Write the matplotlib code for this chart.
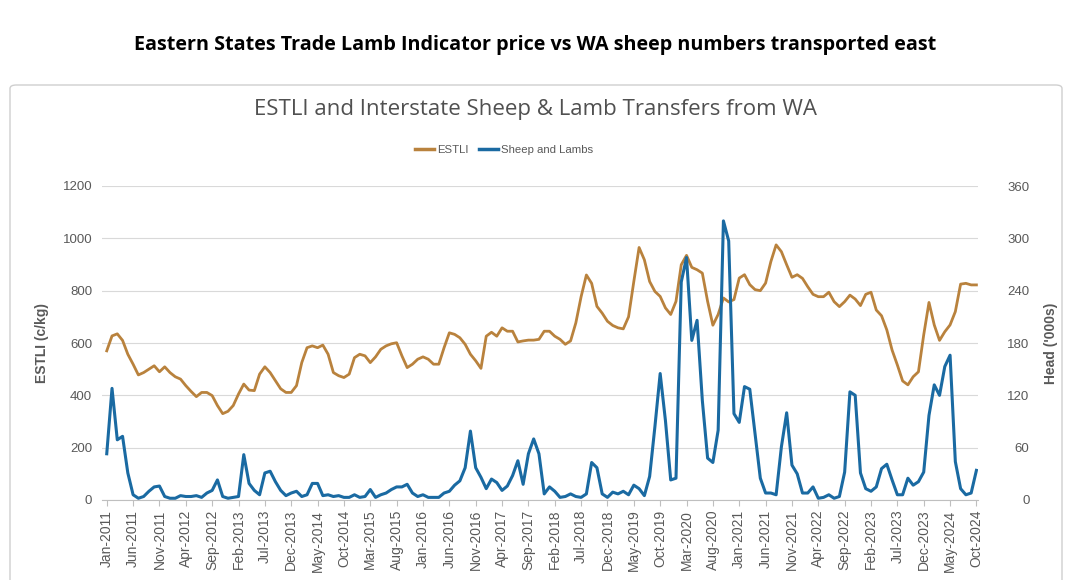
import matplotlib
matplotlib.use("Agg")
import matplotlib.pyplot as plt
from matplotlib.patches import FancyBboxPatch
from matplotlib.lines import Line2D
import numpy as np

months = ["Jan", "Feb", "Mar", "Apr", "May", "Jun", "Jul", "Aug", "Sep", "Oct", "Nov", "Dec"]
dates = [f"{m}-{y}" for y in range(2011, 2025) for m in months][:166]

estli = [
    570, 627, 635, 610, 557, 519, 478, 487, 500, 513, 490, 509,
    487, 471, 462, 437, 415, 395, 411, 411, 399, 361, 330, 339,
    361, 405, 443, 420, 418, 481, 509, 487, 456, 425, 411, 411,
    437, 525, 582, 589, 582, 592, 557, 487, 475, 468, 481, 544,
    557, 551, 525, 547, 576, 589, 597, 601, 551, 506, 519, 538,
    547, 538, 519, 519, 582, 639, 633, 620, 595, 557, 532, 503,
    626, 641, 626, 658, 645, 645, 604, 608, 611, 611, 614, 645,
    645, 626, 614, 595, 608, 677, 777, 860, 828, 740, 714, 683,
    667, 658, 654, 700, 835, 965, 918, 835, 797, 778, 734, 709,
    759, 899, 935, 889, 880, 867, 759, 668, 709, 772, 757, 766,
    848, 861, 823, 804, 800, 829, 911, 975, 949, 899, 851, 861,
    847, 815, 786, 777, 777, 794, 758, 739, 758, 783, 768, 743,
    786, 794, 726, 704, 650, 573, 516, 455, 440, 471, 490, 631,
    755, 669, 610, 643, 669, 720, 825, 828, 822, 822,
]

sheep = [
    53, 128, 69, 73, 31, 6, 2, 4, 10, 15, 16, 4,
    2, 2, 5, 4, 4, 5, 3, 8, 11, 23, 4, 2,
    3, 4, 52, 19, 11, 6, 31, 33, 21, 11, 5, 8,
    10, 4, 6, 19, 19, 5, 6, 4, 5, 3, 3, 6,
    3, 4, 12, 3, 6, 8, 12, 15, 15, 18, 8, 4,
    6, 3, 3, 3, 8, 10, 17, 22, 37, 79, 37, 26,
    13, 24, 20, 11, 16, 28, 45, 18, 53, 70, 53, 7,
    15, 10, 3, 4, 7, 4, 3, 7, 43, 37, 7, 3,
    9, 7, 10, 6, 17, 13, 5, 27, 84, 145, 91, 23,
    25, 250, 278, 183, 206, 114, 48, 43, 80, 320, 297, 99,
    89, 130, 127, 76, 25, 8, 8, 6, 61, 100, 40, 30,
    8, 8, 15, 2, 3, 6, 2, 4, 32, 124, 120, 31,
    13, 10, 15, 36, 41, 23, 6, 6, 25, 17, 21, 32,
    97, 132, 120, 153, 166, 44, 13, 6, 8, 34,
]

left_ticks = [0, 200, 400, 600, 800, 1000, 1200]
right_ticks = [0, 60, 120, 180, 240, 300, 360]

BROWN = "#B9823D"
BLUE = "#1A6AA2"
GRAY = "#595959"
GRID = "#D9D9D9"

W, H = 1069, 580
fig = plt.figure(figsize=(W / 100, H / 100), dpi=100)
fig.patch.set_facecolor("white")

# chart frame
frame = FancyBboxPatch((10 / W, -0.05), 1052 / W, (H - 85) / H + 0.05,
                       boxstyle="round,pad=0,rounding_size=0.006",
                       transform=fig.transFigure, facecolor="none",
                       edgecolor="#CFCFCF", linewidth=1.0, zorder=-5)
fig.patches.append(frame)

fig.text(535 / W, 1 - 45 / H,
         "Eastern States Trade Lamb Indicator price vs WA sheep numbers transported east",
         ha="center", va="center", fontsize=14.2, fontweight="bold",
         family="Open Sans", color="black")
fig.text(535 / W, 1 - 110 / H, "ESTLI and Interstate Sheep & Lamb Transfers from WA",
         ha="center", va="center", fontsize=16, family="Open Sans", color="#505050")

x0, x1 = 102, 978
y0, y1 = 500, 186
ax = fig.add_axes([x0 / W, (H - y0) / H, (x1 - x0) / W, (y0 - y1) / H])
ax.patch.set_visible(False)
ax2 = ax.twinx()
ax2.patch.set_visible(False)

x = np.arange(len(dates))
ax.plot(x, estli, color=BROWN, lw=2.0, solid_joinstyle="round", zorder=3)
ax2.plot(x, sheep, color=BLUE, lw=2.2, solid_joinstyle="round", zorder=3)

ax.set_xlim(-0.9, 165.3)
ax.set_ylim(0, 1200)
ax2.set_ylim(0, 360)
ax.set_yticks(left_ticks)
ax2.set_yticks(right_ticks)
ax.grid(axis="y", color=GRID, lw=0.8)
ax.set_axisbelow(True)

tick_pos = list(range(0, len(dates), 5))
ax.set_xticks(tick_pos)
ax.set_xticklabels([dates[i] for i in tick_pos], rotation=90, fontsize=10,
                   color=GRAY, family="Liberation Sans")
for a in (ax, ax2):
    for s in a.spines.values():
        s.set_visible(False)
ax.spines["bottom"].set_visible(True)
ax.spines["bottom"].set_color("#BFBFBF")
ax.tick_params(axis="x", length=4, color="#BFBFBF", pad=3)
ax.tick_params(axis="y", length=0, labelsize=9.5, labelcolor=GRAY, pad=7)
ax2.tick_params(axis="y", length=0, labelsize=9.5, labelcolor=GRAY, pad=37)
for lab in ax.get_yticklabels():
    lab.set_family("Liberation Sans")
for lab in ax2.get_yticklabels():
    lab.set_family("Liberation Sans")
    lab.set_horizontalalignment("right")

fig.text(42 / W, 1 - 343 / H, "ESTLI (c/kg)", rotation=90, ha="center", va="center",
         fontsize=10, fontweight="bold", color=GRAY, family="Liberation Sans")
fig.text(1051 / W, 1 - 343 / H, "Head ('000s)", rotation=90, ha="center", va="center",
         fontsize=10, fontweight="bold", color=GRAY, family="Liberation Sans")

handles = [Line2D([0], [0], color=BROWN, lw=2.5), Line2D([0], [0], color=BLUE, lw=2.5)]
leg = fig.legend(handles, ["ESTLI", "Sheep and Lambs"], loc="center",
                 bbox_to_anchor=(504 / W, 1 - 150 / H), ncol=2, frameon=False,
                 fontsize=8.2, handlelength=1.7, handletextpad=0.25, columnspacing=0.9)
for t in leg.get_texts():
    t.set_color(GRAY)
    t.set_family("Liberation Sans")

fig.savefig("out.png", dpi=100, facecolor="white")
